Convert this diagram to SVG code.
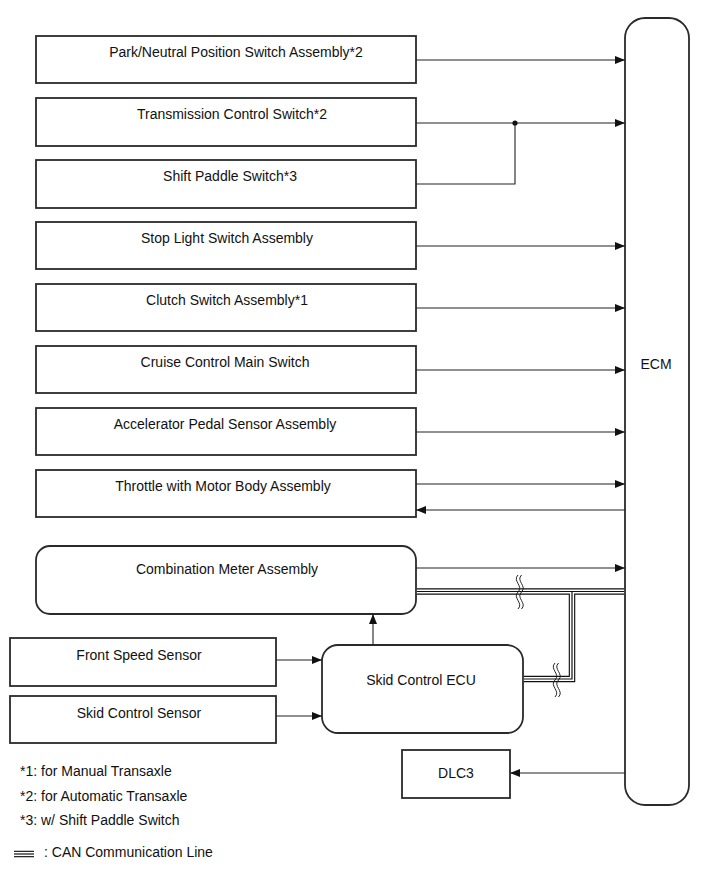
<svg xmlns="http://www.w3.org/2000/svg" width="713" height="882" viewBox="0 0 713 882">
<style>
.box{fill:#fff;stroke:#2a2a2a;stroke-width:1.8}
.t{font-family:"Liberation Sans",Arial,sans-serif;font-size:14px;fill:#111;text-anchor:middle}
.l{font-family:"Liberation Sans",Arial,sans-serif;font-size:14px;fill:#111}
.w{stroke:#222;stroke-width:1.1;fill:none}
.c1{stroke:#111;stroke-width:6.5;fill:none}
.c2{stroke:#fff;stroke-width:4.2;fill:none}
.c3{stroke:#111;stroke-width:1.2;fill:none}
.brk{fill:none;stroke:#222;stroke-width:1}
</style>
<defs>
<marker id="ah" viewBox="0 0 10 8" refX="10" refY="4" markerWidth="10" markerHeight="8" markerUnits="userSpaceOnUse" orient="auto">
<path d="M0,0 L10,4 L0,8 Z" fill="#111"/>
</marker>
</defs>
<rect width="713" height="882" fill="#fff"/>

<g id="ecm"><rect class="box" x="625" y="18" width="64" height="787" rx="20"/><text class="t" x="656" y="369">ECM</text></g>
<g id="pnp"><rect class="box" x="36" y="36" width="380" height="47"/><text class="t" x="236" y="57">Park/Neutral Position Switch Assembly*2</text></g>
<g id="tcs"><rect class="box" x="36" y="98" width="380" height="48"/><text class="t" x="232" y="119">Transmission Control Switch*2</text></g>
<g id="sps"><rect class="box" x="36" y="160" width="380" height="48"/><text class="t" x="230" y="181">Shift Paddle Switch*3</text></g>
<g id="sls"><rect class="box" x="36" y="222" width="380" height="47"/><text class="t" x="227" y="243">Stop Light Switch Assembly</text></g>
<g id="css"><rect class="box" x="36" y="284" width="380" height="47"/><text class="t" x="227" y="305">Clutch Switch Assembly*1</text></g>
<g id="ccm"><rect class="box" x="36" y="346" width="380" height="47"/><text class="t" x="225" y="367">Cruise Control Main Switch</text></g>
<g id="aps"><rect class="box" x="36" y="408" width="380" height="47"/><text class="t" x="225" y="429">Accelerator Pedal Sensor Assembly</text></g>
<g id="tmb"><rect class="box" x="36" y="470" width="380" height="47"/><text class="t" x="223" y="491">Throttle with Motor Body Assembly</text></g>
<g id="cma"><rect class="box" x="36" y="546" width="380" height="68" rx="14"/><text class="t" x="227" y="574">Combination Meter Assembly</text></g>
<g id="fss"><rect class="box" x="10" y="638" width="266" height="48"/><text class="t" x="139" y="660">Front Speed Sensor</text></g>
<g id="scs"><rect class="box" x="10" y="696" width="266" height="47"/><text class="t" x="139" y="718">Skid Control Sensor</text></g>
<g id="sce"><rect class="box" x="322" y="645" width="201" height="88" rx="16"/><text class="t" x="421" y="685">Skid Control ECU</text></g>
<g id="dlc"><rect class="box" x="402" y="750" width="108" height="48"/><text class="t" x="456" y="778">DLC3</text></g>

<g id="connectors">
<line class="w" x1="416" y1="60" x2="625" y2="60" marker-end="url(#ah)"/>
<line class="w" x1="416" y1="123" x2="625" y2="123" marker-end="url(#ah)"/>
<polyline class="w" points="416,184 515,184 515,123"/>
<circle cx="515" cy="123" r="2.6" fill="#111"/>
<line class="w" x1="416" y1="246" x2="625" y2="246" marker-end="url(#ah)"/>
<line class="w" x1="416" y1="308" x2="625" y2="308" marker-end="url(#ah)"/>
<line class="w" x1="416" y1="370" x2="625" y2="370" marker-end="url(#ah)"/>
<line class="w" x1="416" y1="432" x2="625" y2="432" marker-end="url(#ah)"/>
<line class="w" x1="416" y1="484" x2="625" y2="484" marker-end="url(#ah)"/>
<line class="w" x1="625" y1="510" x2="416" y2="510" marker-end="url(#ah)"/>
<line class="w" x1="416" y1="568" x2="625" y2="568" marker-end="url(#ah)"/>
<line class="w" x1="373" y1="645" x2="373" y2="614" marker-end="url(#ah)"/>
<line class="w" x1="276" y1="660" x2="322" y2="660" marker-end="url(#ah)"/>
<line class="w" x1="276" y1="716" x2="322" y2="716" marker-end="url(#ah)"/>
<line class="w" x1="625" y1="773" x2="510" y2="773" marker-end="url(#ah)"/>
<g id="can">
<path class="c1" d="M416.9,591.5 H624.1 M523.9,679 H572 V591.5"/>
<path class="c2" d="M416.9,591.5 H624.1 M523.9,679 H572 V591.5"/>
<path class="c3" d="M416.9,591.5 H624.1 M523.9,679 H572 V591.5"/>
</g>
<path class="brk" d="M518,575 C512,581 524,586 518,592 C512,598 524,603 518,609"/>
<path class="brk" d="M521.5,575 C515.5,581 527.5,586 521.5,592 C515.5,598 527.5,603 521.5,609"/>
<path class="brk" d="M555,663 C549,669 561,674 555,680 C549,686 561,691 555,697"/>
<path class="brk" d="M558.5,663 C552.5,669 564.5,674 558.5,680 C552.5,686 564.5,691 558.5,697"/>
</g>

<g id="legend">
<text class="l" x="20" y="776">*1: for Manual Transaxle</text>
<text class="l" x="20" y="801">*2: for Automatic Transaxle</text>
<text class="l" x="20" y="825">*3: w/ Shift Paddle Switch</text>
<path class="c1" d="M14,854 H34"/>
<path class="c2" d="M14,854 H34"/>
<path class="c3" d="M14,854 H34"/>
<text class="l" x="44" y="857">: CAN Communication Line</text>
</g>
</svg>
